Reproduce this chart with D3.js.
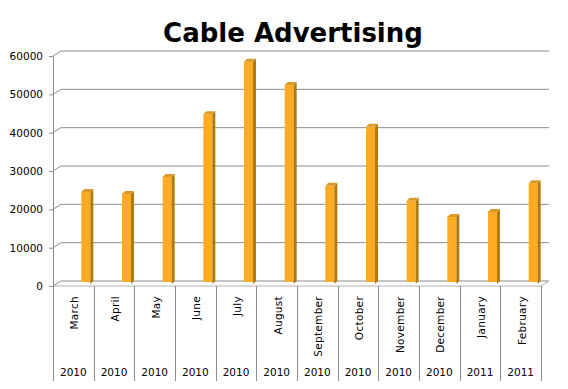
<!DOCTYPE html>
<html>
<head>
<meta charset="utf-8">
<script src="https://cdn.jsdelivr.net/npm/d3@7"></script>
<style>
body{margin:0;background:#fff}
text{font-family:"DejaVu Sans",Verdana,sans-serif}
</style>
</head>
<body>
<svg></svg>
<script>
var screen = {width:568,height:389}
var margins = {top:56,right:27,bottom:103,left:53}

// data
var months = ["March","April","May","June","July","August","September","October","November","December","January","February"]
var years = ["2010","2010","2010","2010","2010","2010","2010","2010","2010","2010","2011","2011"]
var values = [24000,23500,27900,44300,58000,51900,25600,41000,21700,17500,18800,26300]
var yTicks = [0,10000,20000,30000,40000,50000,60000]

var depth = {dx:8,dy:-5}

var svg = d3.select("svg")
    .attr("width",screen.width)
    .attr("height",screen.height)

var width = screen.width - margins.left - margins.right
var height = screen.height - margins.top - margins.bottom

var xScale = d3.scaleBand()
    .domain(d3.range(months.length))
    .range([margins.left,margins.left+width])

var yScale = d3.scaleLinear()
    .domain([0,60000])
    .range([margins.top+height,margins.top])

//title
svg.append("text")
    .attr("x",293)
    .attr("y",42)
    .attr("text-anchor","middle")
    .style("font-weight","bold")
    .style("font-size","26px")
    .text("Cable Advertising")

//back wall gridlines with the little diagonal at the axis
var grid = svg.append("g").attr("id","grid")
grid.selectAll(".gl")
    .data(yTicks)
    .enter()
    .append("polyline")
    .attr("points",function(t)
    {
        var y = yScale(t)
        return margins.left+","+y+" "+(margins.left+depth.dx)+","+(y+depth.dy)+" "+(margins.left+width+depth.dx)+","+(y+depth.dy)
    })
    .attr("fill","none")
    .attr("stroke","#8c8c8c")
    .attr("stroke-width",1)

//floor
var y0 = yScale(0)
svg.append("polyline")
    .attr("points",margins.left+","+y0+" "+(margins.left+width)+","+y0+" "+(margins.left+width+depth.dx)+","+(y0+depth.dy))
    .attr("fill","none")
    .attr("stroke","#b0b0b0")

//y axis
var yAxis = d3.axisLeft(yScale)
    .tickValues(yTicks)
    .tickFormat(d3.format("d"))
    .tickSize(4)
    .tickPadding(6)
    .tickSizeOuter(0)
var ya = svg.append("g")
    .attr("id","yAxis")
    .attr("transform","translate("+margins.left+",0)")
    .call(yAxis)
ya.selectAll("text").style("font-size","10.5px").attr("fill","#000")
ya.selectAll("line,path").attr("stroke","#8c8c8c")

//category dividers
var bounds = d3.range(months.length+1)
svg.selectAll(".div")
    .data(bounds)
    .enter()
    .append("line")
    .attr("x1",function(i){return Math.round(margins.left+i*xScale.bandwidth())+0.5})
    .attr("x2",function(i){return Math.round(margins.left+i*xScale.bandwidth())+0.5})
    .attr("y1",y0)
    .attr("y2",381)
    .attr("stroke","#8c8c8c")

//month labels
svg.selectAll(".month")
    .data(months)
    .enter()
    .append("text")
    .attr("transform",function(m,i){return "translate("+(xScale(i)+xScale.bandwidth()/2+5)+",296) rotate(-90)"})
    .attr("text-anchor","end")
    .style("font-size","10.5px")
    .style("letter-spacing","0.3px")
    .text(function(m){return m})

//year labels
svg.selectAll(".year")
    .data(years)
    .enter()
    .append("text")
    .attr("x",function(y,i){return xScale(i)+xScale.bandwidth()/2})
    .attr("y",376)
    .attr("text-anchor","middle")
    .style("font-size","10.5px")
    .text(function(y){return y})

//3d bars
var barW = 9, side = 3
var bars = svg.append("g").attr("id","bars")
    .selectAll("g")
    .data(values)
    .enter()
    .append("g")
    .attr("transform",function(v,i){return "translate("+(xScale(i)+xScale.bandwidth()/2+8)+",0)"})

bars.append("rect")
    .attr("x",0)
    .attr("y",function(v){return yScale(v)-2})
    .attr("width",barW)
    .attr("height",function(v){return y0-2-yScale(v)})
    .attr("fill","#fdab22")

bars.append("polygon")
    .attr("points",function(v)
    {
        var t = yScale(v)-2, b = y0-2
        return barW+","+t+" "+(barW+side)+","+(t-side)+" "+(barW+side)+","+(b-side)+" "+barW+","+b
    })
    .attr("fill","#b07a12")

bars.append("polygon")
    .attr("points",function(v)
    {
        var t = yScale(v)-2
        return "0,"+t+" "+side+","+(t-side)+" "+(barW+side)+","+(t-side)+" "+barW+","+t
    })
    .attr("fill","#d99a2a")
</script>
</body>
</html>
